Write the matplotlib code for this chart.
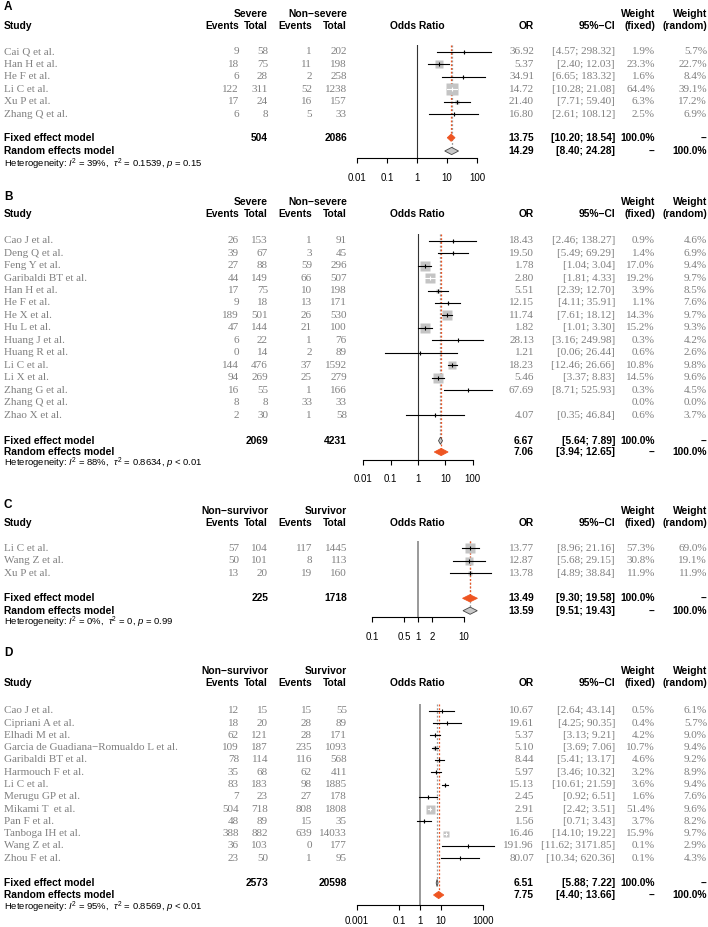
import numpy as np
import matplotlib.pyplot as plt
from matplotlib.patches import Polygon
from matplotlib.ticker import NullLocator

plt.rcParams['font.family'] = 'Liberation Sans'
plt.rcParams['mathtext.fontset'] = 'custom'
plt.rcParams['mathtext.rm'] = 'Liberation Sans'
plt.rcParams['mathtext.it'] = 'Liberation Sans:italic'

W, H = 708, 927
M = '\u2212'

# ---- A: severe vs non-severe
a_study = ['Cai Q et al.', 'Han H et al.', 'He F et al.', 'Li C et al.', 'Xu P et al.', 'Zhang Q et al.']
a_ev1 = [9, 18, 6, 122, 17, 6]
a_tot1 = [58, 75, 28, 311, 24, 8]
a_ev2 = [1, 11, 2, 52, 16, 5]
a_tot2 = [202, 198, 258, 1238, 157, 33]
a_or = [36.92, 5.37, 34.91, 14.72, 21.40, 16.80]
a_lo = [4.57, 2.40, 6.65, 10.28, 7.71, 2.61]
a_hi = [298.32, 12.03, 183.32, 21.08, 59.40, 108.12]
a_wf = [1.9, 23.3, 1.6, 64.4, 6.3, 2.5]
a_wr = [5.7, 22.7, 8.4, 39.1, 17.2, 6.9]
a_total = [504, 2086]
a_fixed = [13.75, 10.20, 18.54]
a_random = [14.29, 8.40, 24.28]
a_het = ['39%', '0.1539', '= 0.15']

# ---- B: severe vs non-severe
b_study = ['Cao J et al.', 'Deng Q et al.', 'Feng Y et al.', 'Garibaldi BT et al.', 'Han H et al.',
           'He F et al.', 'He X et al.', 'Hu L et al.', 'Huang J et al.', 'Huang R et al.',
           'Li C et al.', 'Li X et al.', 'Zhang G et al.', 'Zhang Q et al.', 'Zhao X et al.']
b_ev1 = [26, 39, 27, 44, 17, 9, 189, 47, 6, 0, 144, 94, 16, 8, 2]
b_tot1 = [153, 67, 88, 149, 75, 18, 501, 144, 22, 14, 476, 269, 55, 8, 30]
b_ev2 = [1, 3, 59, 66, 10, 13, 26, 21, 1, 2, 37, 25, 1, 33, 1]
b_tot2 = [91, 45, 296, 507, 198, 171, 530, 100, 76, 89, 1592, 279, 166, 33, 58]
b_or = [18.43, 19.50, 1.78, 2.80, 5.51, 12.15, 11.74, 1.82, 28.13, 1.21, 18.23, 5.46, 67.69, np.nan, 4.07]
b_lo = [2.46, 5.49, 1.04, 1.81, 2.39, 4.11, 7.61, 1.01, 3.16, 0.06, 12.46, 3.37, 8.71, np.nan, 0.35]
b_hi = [138.27, 69.29, 3.04, 4.33, 12.70, 35.91, 18.12, 3.30, 249.98, 26.44, 26.66, 8.83, 525.93, np.nan, 46.84]
b_wf = [0.9, 1.4, 17.0, 19.2, 3.9, 1.1, 14.3, 15.2, 0.3, 0.6, 10.8, 14.5, 0.3, 0.0, 0.6]
b_wr = [4.6, 6.9, 9.4, 9.7, 8.5, 7.6, 9.7, 9.3, 4.2, 2.6, 9.8, 9.6, 4.5, 0.0, 3.7]
b_total = [2069, 4231]
b_fixed = [6.67, 5.64, 7.89]
b_random = [7.06, 3.94, 12.65]
b_het = ['88%', '0.8634', '< 0.01']

# ---- C: non-survivor vs survivor
c_study = ['Li C et al.', 'Wang Z et al.', 'Xu P et al.']
c_ev1 = [57, 50, 13]
c_tot1 = [104, 101, 20]
c_ev2 = [117, 8, 19]
c_tot2 = [1445, 113, 160]
c_or = [13.77, 12.87, 13.78]
c_lo = [8.96, 5.68, 4.89]
c_hi = [21.16, 29.15, 38.84]
c_wf = [57.3, 30.8, 11.9]
c_wr = [69.0, 19.1, 11.9]
c_total = [225, 1718]
c_fixed = [13.49, 9.30, 19.58]
c_random = [13.59, 9.51, 19.43]
c_het = ['0%', '0', '= 0.99']

# ---- D: non-survivor vs survivor
d_study = ['Cao J et al.', 'Cipriani A et al.', 'Elhadi M et al.',
           'Garcia de Guadiana' + M + 'Romualdo L et al.', 'Garibaldi BT et al.', 'Harmouch F et al.',
           'Li C et al.', 'Merugu GP et al.', 'Mikami T  et al.', 'Pan F et al.',
           'Tanboga IH et al.', 'Wang Z et al.', 'Zhou F et al.']
d_ev1 = [12, 18, 62, 109, 78, 35, 83, 7, 504, 48, 388, 36, 23]
d_tot1 = [15, 20, 121, 187, 114, 68, 183, 23, 718, 89, 882, 103, 50]
d_ev2 = [15, 28, 28, 235, 116, 62, 98, 27, 808, 15, 639, 0, 1]
d_tot2 = [55, 89, 171, 1093, 568, 411, 1885, 178, 1808, 35, 14033, 177, 95]
d_or = [10.67, 19.61, 5.37, 5.10, 8.44, 5.97, 15.13, 2.45, 2.91, 1.56, 16.46, 191.96, 80.07]
d_lo = [2.64, 4.25, 3.13, 3.69, 5.41, 3.46, 10.61, 0.92, 2.42, 0.71, 14.10, 11.62, 10.34]
d_hi = [43.14, 90.35, 9.21, 7.06, 13.17, 10.32, 21.59, 6.51, 3.51, 3.43, 19.22, 3171.85, 620.36]
d_wf = [0.5, 0.4, 4.2, 10.7, 4.6, 3.2, 3.6, 1.6, 51.4, 3.7, 15.9, 0.1, 0.1]
d_wr = [6.1, 5.7, 9.0, 9.4, 9.2, 8.9, 9.4, 7.6, 9.6, 8.2, 9.7, 2.9, 4.3]
d_total = [2573, 20598]
d_fixed = [6.51, 5.88, 7.22]
d_random = [7.75, 4.40, 13.66]
d_het = ['95%', '0.8569', '< 0.01']

ticks_ab = [0.01, 0.1, 1, 10, 100]
ticks_c = [0.1, 0.5, 1, 2, 10]
ticks_d = [0.001, 0.1, 1, 10, 1000]
labels_ab = ['0.01', '0.1', '1', '10', '100']
labels_c = ['0.1', '0.5', '1', '2', '10']
labels_d = ['0.001', '0.1', '1', '10', '1000']

ORANGE = '#EE5522'
SQ = '#C4C4C4'
GREYTXT = '#808080'

# column right edges (pixels)
X_STUDY, X_E1, X_T1, X_E2, X_T2 = 4, 239, 268, 312, 347
X_OR, X_CI, X_WF, X_WR, X_PLOT = 534, 615, 655, 707, 417

fig = plt.figure(figsize=(W / 100, H / 100), dpi=100)
bg = fig.add_axes([0, 0, 1, 1])
bg.set_xlim(0, W)
bg.set_ylim(H, 0)
bg.axis('off')


def txt(x, y, s, ha='right', bold=False, serif=False, color='black', size=7.4):
    bg.text(x, y, s, ha=ha, va='center', fontsize=size,
            fontweight='bold' if bold else 'normal',
            family='Liberation Serif' if serif else 'Liberation Sans', color=color)


def ci_str(lo, hi):
    return '[%.2f; %.2f]' % (lo, hi)


def draw_panel(letter, groups, study, ev1, tot1, ev2, tot2, ors, los, his, wf, wr,
               total, fixed, random, het, ticks, labels, lay):
    txt(X_STUDY, lay['letter'], letter, ha='left', bold=True, size=8.5)
    txt(X_T1, lay['grp'], groups[0], bold=True)
    txt(X_T2, lay['grp'], groups[1], bold=True)
    txt(X_WF, lay['grp'], 'Weight', bold=True)
    txt(X_WR, lay['grp'], 'Weight', bold=True)
    y = lay['hdr']
    txt(X_STUDY, y, 'Study', ha='left', bold=True)
    txt(X_E1, y, 'Events', bold=True)
    txt(X_T1, y, 'Total', bold=True)
    txt(X_E2, y, 'Events', bold=True)
    txt(X_T2, y, 'Total', bold=True)
    txt(X_PLOT, y, 'Odds Ratio', ha='center', bold=True)
    txt(X_OR, y, 'OR', bold=True)
    txt(X_CI, y, '95%' + M + 'CI', bold=True)
    txt(X_WF, y, '(fixed)', bold=True)
    txt(X_WR, y, '(random)', bold=True)

    ys = [lay['first'] + i * lay['row'] for i in range(len(study))]
    for i, yy in enumerate(ys):
        kw = dict(serif=True, color=GREYTXT, size=8)
        txt(X_STUDY, yy, study[i], ha='left', **kw)
        txt(X_E1, yy, str(ev1[i]), **kw)
        txt(X_T1, yy, str(tot1[i]), **kw)
        txt(X_E2, yy, str(ev2[i]), **kw)
        txt(X_T2, yy, str(tot2[i]), **kw)
        if not np.isnan(ors[i]):
            txt(X_OR, yy, '%.2f' % ors[i], **kw)
            txt(X_CI, yy, ci_str(los[i], his[i]), **kw)
        txt(X_WF, yy, '%.1f%%' % wf[i], **kw)
        txt(X_WR, yy, '%.1f%%' % wr[i], **kw)

    yf, yr = lay['fixed'], lay['random']
    txt(X_STUDY, yf, 'Fixed effect model', ha='left', bold=True)
    txt(X_T1, yf, str(total[0]), bold=True)
    txt(X_T2, yf, str(total[1]), bold=True)
    txt(X_OR, yf, '%.2f' % fixed[0], bold=True)
    txt(X_CI, yf, ci_str(fixed[1], fixed[2]), bold=True)
    txt(X_WF, yf, '100.0%', bold=True)
    txt(X_WR, yf, '--', bold=True)
    txt(X_STUDY, yr, 'Random effects model', ha='left', bold=True)
    txt(X_OR, yr, '%.2f' % random[0], bold=True)
    txt(X_CI, yr, ci_str(random[1], random[2]), bold=True)
    txt(X_WF, yr, '--', bold=True)
    txt(X_WR, yr, '100.0%', bold=True)
    txt(X_STUDY, lay['het'], r'Heterogeneity: $I^2$ = %s,  $\tau^2$ = %s, $p$ %s' % tuple(het),
        ha='left', size=6.8)

    # forest plot axes, y in figure pixels
    top, bot = lay['first'] - 7, lay['axis']
    left, right = 340, 505
    ax = fig.add_axes([left / W, 1 - bot / H, (right - left) / W, (bot - top) / H])
    ax.set_xscale('log')
    ax.set_xlim(10 ** ((left - lay['x1']) / lay['dec']), 10 ** ((right - lay['x1']) / lay['dec']))
    ax.set_ylim(bot, top)
    ax.patch.set_visible(False)
    for s in ['left', 'right', 'top']:
        ax.spines[s].set_visible(False)
    ax.spines['bottom'].set_bounds(ticks[0], ticks[-1])
    ax.spines['bottom'].set_linewidth(0.8)
    ax.set_xticks(ticks, labels=labels)
    ax.xaxis.set_minor_locator(NullLocator())
    ax.set_yticks([])
    ax.tick_params(axis='x', direction='out', length=3.6, width=0.8, pad=lay['pad'], labelsize=7)

    ax.axvline(1, color=lay['null'], lw=lay['nlw'], zorder=1)

    wmax = max(wf)
    for i, yy in enumerate(ys):
        if np.isnan(ors[i]):
            continue
        side = lay['sq'] * np.sqrt(wf[i] / wmax)
        if side > 0:
            ax.plot(ors[i], yy, marker='s', ms=side * 0.72, color=SQ, mec='none', ls='none',
                    zorder=2, clip_on=False)
        width = (np.log10(his[i]) - np.log10(los[i])) * lay['dec']
        c = 'white' if width < side else 'black'
        ax.plot([los[i], his[i]], [yy, yy], color=c, lw=0.8, zorder=3, clip_on=False)
        ax.plot(ors[i], yy, marker='|', ms=3.2, mew=0.8, color=c, ls='none', zorder=4, clip_on=False)

    h = 3.6
    for est, y_d, is_or in [(fixed, yf, lay['orange'] == 'fixed'), (random, yr, lay['orange'] == 'random')]:
        fc, ec = (ORANGE, ORANGE) if is_or else ('#C8C8C8', '#444444')
        ax.vlines(est[0], top, y_d, color=ORANGE if is_or else '#999999', lw=0.9,
                  linestyles=(0, (1.5, 1.5)), zorder=1.5 if is_or else 1.4)
        ax.add_patch(Polygon([(est[1], y_d), (est[0], y_d - h), (est[2], y_d), (est[0], y_d + h)],
                             closed=True, fc=fc, ec=ec, lw=0.6, zorder=5, clip_on=False))


lay_a = dict(letter=7, grp=14, hdr=26, first=51.7, row=12.5, fixed=137.7, random=151, het=164,
             axis=158, pad=7, x1=417, dec=30, sq=12, null='#333333', nlw=0.8, orange='fixed')
lay_b = dict(letter=197, grp=202, hdr=213.5, first=240.7, row=12.45, fixed=440.7, random=452,
             het=463, axis=460, pad=6.5, x1=418, dec=27.3, sq=10.5, null='#333333', nlw=0.8,
             orange='random')
lay_c = dict(letter=505, grp=511, hdr=523, first=548.3, row=12.4, fixed=598.3, random=610.7,
             het=622.7, axis=617, pad=7, x1=418, dec=46, sq=10.7, null='#999999', nlw=1.4,
             orange='fixed')
lay_d = dict(letter=653, grp=671, hdr=683, first=710.7, row=12.3, fixed=883, random=895, het=907,
             axis=905, pad=4, x1=420, dec=21, sq=9, null='#999999', nlw=1.4, orange='random')

draw_panel('A', ['Severe', 'Non' + M + 'severe'], a_study, a_ev1, a_tot1, a_ev2, a_tot2, a_or,
           a_lo, a_hi, a_wf, a_wr, a_total, a_fixed, a_random, a_het, ticks_ab, labels_ab, lay_a)
draw_panel('B', ['Severe', 'Non' + M + 'severe'], b_study, b_ev1, b_tot1, b_ev2, b_tot2, b_or,
           b_lo, b_hi, b_wf, b_wr, b_total, b_fixed, b_random, b_het, ticks_ab, labels_ab, lay_b)
draw_panel('C', ['Non' + M + 'survivor', 'Survivor'], c_study, c_ev1, c_tot1, c_ev2, c_tot2, c_or,
           c_lo, c_hi, c_wf, c_wr, c_total, c_fixed, c_random, c_het, ticks_c, labels_c, lay_c)
draw_panel('D', ['Non' + M + 'survivor', 'Survivor'], d_study, d_ev1, d_tot1, d_ev2, d_tot2, d_or,
           d_lo, d_hi, d_wf, d_wr, d_total, d_fixed, d_random, d_het, ticks_d, labels_d, lay_d)

fig.savefig('out.png', dpi=100)
